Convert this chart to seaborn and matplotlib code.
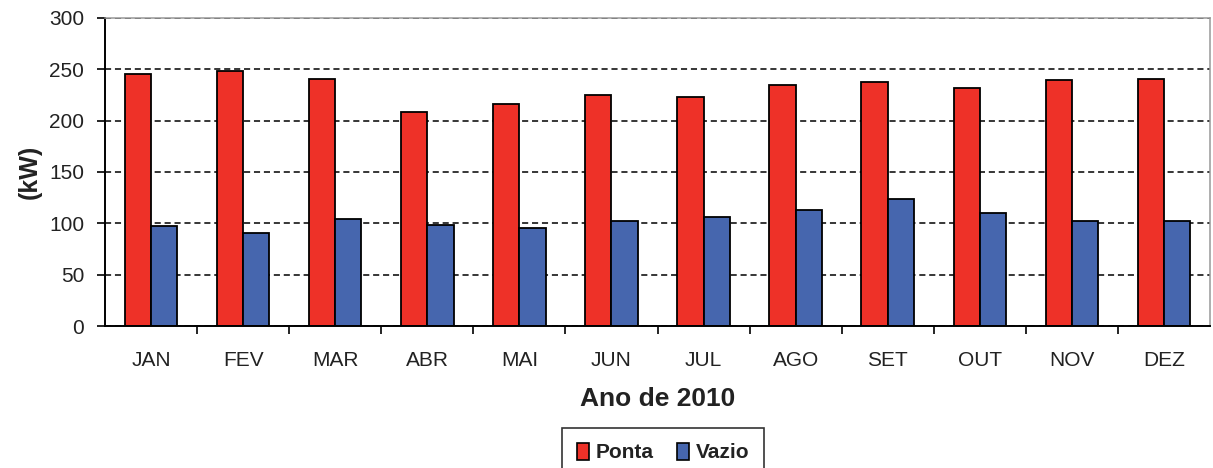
import numpy as np
import pandas as pd
import matplotlib
matplotlib.use("Agg")
import matplotlib.pyplot as plt
from matplotlib.ticker import FixedLocator, MultipleLocator
import seaborn as sns

months = ["JAN", "FEV", "MAR", "ABR", "MAI", "JUN", "JUL", "AGO", "SET", "OUT", "NOV", "DEZ"]
ponta = [245, 248, 241, 208, 216, 225, 223, 235, 238, 232, 240, 241]
vazio = [97, 91, 104, 98, 95, 102, 106, 113, 124, 110, 102, 102]
series = ["Ponta", "Vazio"]
colors = ["#EE3128", "#4666AE"]

df = pd.DataFrame({
    "mes": months * 2,
    "kW": ponta + vazio,
    "tipo": [series[0]] * len(months) + [series[1]] * len(months),
})

sns.set_theme(style="white")
plt.rcParams["font.family"] = ["Liberation Sans", "DejaVu Sans"]

fig = plt.figure(figsize=(12.13, 4.68), dpi=100)
ax = fig.add_axes([105 / 1213, 1 - 326 / 468, (1210 - 105) / 1213, (326 - 18) / 468])

sns.barplot(data=df, x="mes", y="kW", hue="tipo", order=months, hue_order=series,
            palette=colors, width=0.57, edgecolor="black", linewidth=1.3,
            saturation=1, legend=False, ax=ax)

ax.set_xlim(-0.5, len(months) - 0.5)
ax.set_ylim(0, 300)
ax.yaxis.set_major_locator(MultipleLocator(50))
ax.set_axisbelow(True)
ax.grid(axis="y", color="black", linestyle=(0, (4, 2.5)), linewidth=1.1)
ax.grid(axis="x", visible=False)

# category separators below the x axis
ax.xaxis.set_minor_locator(FixedLocator(np.arange(0.5, len(months) - 1, 1.0)))
ax.tick_params(axis="x", which="major", length=0, pad=18, labelsize=15, labelcolor="#222222")
ax.tick_params(axis="x", which="minor", bottom=True, length=6, width=1.2, color="black", direction="out")
ax.tick_params(axis="y", which="major", left=True, length=6, width=1.2, color="black",
               direction="out", pad=9, labelsize=15, labelcolor="#222222")

for side in ["left", "bottom"]:
    ax.spines[side].set_color("black")
    ax.spines[side].set_linewidth(1.4)
for side in ["top", "right"]:
    ax.spines[side].set_color("#999999")
    ax.spines[side].set_linewidth(1.1)

ax.set_xlabel("Ano de 2010", fontsize=19, fontweight="bold", color="#222222", labelpad=12)
ax.set_ylabel("(kW)", fontsize=18, fontweight="bold", color="#222222")
ax.yaxis.set_label_coords(-0.057, 0.5)

handles = [plt.Rectangle((0, 0), 1, 1, facecolor=c, edgecolor="black", linewidth=1.2) for c in colors]
leg = fig.legend(handles, series, loc="upper center", bbox_to_anchor=(663 / 1213, 1 - 428 / 468),
                 ncol=2, frameon=True, fancybox=False, edgecolor="black", borderaxespad=0,
                 prop={"size": 15, "weight": "bold"}, handlelength=0.6, handleheight=0.9,
                 handletextpad=0.3, columnspacing=1.1, borderpad=0.7)
leg.get_frame().set_linewidth(1.2)
for t in leg.get_texts():
    t.set_color("#222222")

fig.savefig("out.png", dpi=100)
